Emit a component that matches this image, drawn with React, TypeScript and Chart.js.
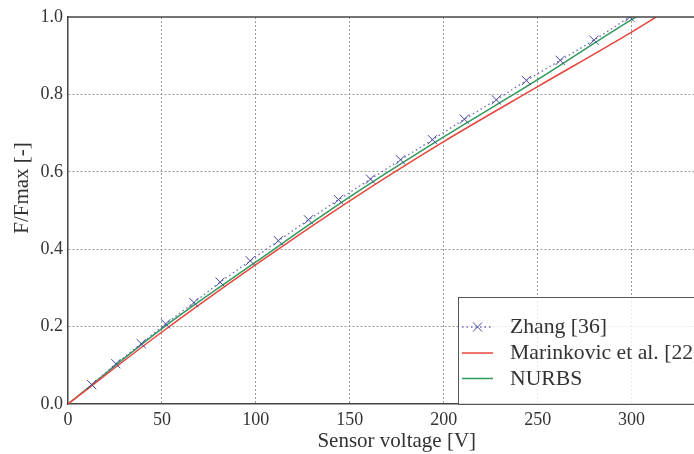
import React, { useEffect, useRef } from "react";
import { Chart, registerables } from "chart.js";
Chart.register(...registerables);

const FONT = "'Liberation Serif', 'DejaVu Serif', serif";

const zhangX = [12.6, 25.5, 39, 52, 67, 81, 97, 112, 128, 144, 161, 177, 194, 211, 228, 244, 262, 280, 299];
const zhangY = [0.05, 0.104, 0.156, 0.207, 0.262, 0.315, 0.37, 0.422, 0.476, 0.528, 0.581, 0.631, 0.683, 0.736, 0.786, 0.836, 0.888, 0.94, 1.0];

const marinX = [0, 50, 100, 150, 200, 250, 300, 313];
const marinY = [0, 0.186, 0.36, 0.525, 0.678, 0.82, 0.961, 1.0];

const nurbsX = [0, 50, 100, 150, 200, 250, 300, 302.5];
const nurbsY = [0, 0.195, 0.367, 0.535, 0.69, 0.838, 0.993, 1.0];

const legendLabels = ["Zhang [36]", "Marinkovic et al. [22]", "NURBS"];
const xTitle = "Sensor voltage [V]";
const yTitle = "F/Fmax [-]";
const xMin = 0, xMax = 350, xStep = 50;
const yMin = 0, yMax = 1, yStep = 0.2;

const zhangColor = "#6a6ab8";
const zhangMarker = "#45459a";
const marinColor = "#e8453c";
const nurbsColor = "#2f9a5c";

const pts = (xs: number[], ys: number[]) => xs.map((x, i) => ({ x, y: ys[i] }));

export default function App() {
  const ref = useRef<HTMLCanvasElement | null>(null);
  useEffect(() => {
    if (!ref.current) return;
    const overlay = {
      id: "overlay",
      afterDraw(chart: any) {
        const { ctx, chartArea } = chart;
        ctx.save();
        ctx.strokeStyle = "#444";
        ctx.lineWidth = 1.5;
        ctx.beginPath();
        ctx.moveTo(chartArea.left, chartArea.top);
        ctx.lineTo(chartArea.right, chartArea.top);
        ctx.stroke();
        ctx.fillStyle = "#333";
        ctx.font = `21px ${FONT}`;
        ctx.translate(22, 188);
        ctx.rotate(-Math.PI / 2);
        ctx.textAlign = "center";
        ctx.textBaseline = "middle";
        ctx.fillText(yTitle, 0, 0);
        ctx.restore();

        ctx.save();
        const bx = 458, by = 297, bw = 280, bh = chartArea.bottom - 297;
        ctx.fillStyle = "rgba(255,255,255,0.8)";
        ctx.fillRect(bx, by, bw, bh);
        ctx.strokeStyle = "#555";
        ctx.lineWidth = 1;
        ctx.strokeRect(bx + 0.5, by + 0.5, bw, bh);
        const lineYs = [327, 353, 378.5];
        const baseYs = [333, 359, 384.5];
        const colors = [zhangColor, marinColor, nurbsColor];
        for (let i = 0; i < 3; i++) {
          ctx.strokeStyle = colors[i];
          ctx.lineWidth = i === 0 ? 1.3 : 1.5;
          ctx.setLineDash(i === 0 ? [1.5, 3] : []);
          ctx.beginPath();
          ctx.moveTo(462, lineYs[i]);
          ctx.lineTo(493, lineYs[i]);
          ctx.stroke();
          ctx.setLineDash([]);
          if (i === 0) {
            ctx.strokeStyle = zhangMarker;
            ctx.lineWidth = 1;
            const cx = 477.5, cy = lineYs[i], r = 4.5;
            ctx.beginPath();
            ctx.moveTo(cx - r, cy - r);
            ctx.lineTo(cx + r, cy + r);
            ctx.moveTo(cx - r, cy + r);
            ctx.lineTo(cx + r, cy - r);
            ctx.stroke();
          }
          ctx.fillStyle = "#333";
          ctx.font = `21.7px ${FONT}`;
          ctx.textAlign = "left";
          ctx.textBaseline = "alphabetic";
          ctx.fillText(legendLabels[i], 510, baseYs[i]);
        }
        ctx.restore();
      },
    };
    const chart = new Chart(ref.current, {
      type: "line",
      data: {
        datasets: [
          {
            label: legendLabels[0],
            data: pts(zhangX, zhangY),
            borderColor: zhangColor,
            borderWidth: 1.3,
            borderDash: [1.5, 3],
            pointStyle: "crossRot",
            pointRadius: 6.5,
            pointBorderColor: zhangMarker,
            pointBorderWidth: 1,
            pointBackgroundColor: "transparent",
            fill: false,
          },
          {
            label: legendLabels[1],
            data: pts(marinX, marinY),
            borderColor: marinColor,
            borderWidth: 1.5,
            pointRadius: 0,
            cubicInterpolationMode: "monotone",
            fill: false,
          },
          {
            label: legendLabels[2],
            data: pts(nurbsX, nurbsY),
            borderColor: nurbsColor,
            borderWidth: 1.5,
            pointRadius: 0,
            cubicInterpolationMode: "monotone",
            fill: false,
          },
        ],
      },
      options: {
        animation: false,
        responsive: false,
        devicePixelRatio: 1,
        layout: { padding: { top: 17, right: 0, left: 0, bottom: 0 } },
        plugins: { legend: { display: false }, tooltip: { enabled: false } },
        scales: {
          x: {
            type: "linear",
            min: xMin,
            max: xMax,
            ticks: {
              stepSize: xStep,
              font: { family: FONT, size: 18 },
              color: "#333",
              padding: 5,
              maxRotation: 0,
              callback: (v: any) => (v === xMax ? "" : String(v)),
            },
            grid: {
              color: (c: any) => (c.tick && (c.tick.value === xMin || c.tick.value === xMax) ? "transparent" : "#9a9a9a"),
              drawTicks: false,
              lineWidth: 1,
            },
            border: { display: true, color: "#444", width: 1.5, dash: [2, 2] },
            title: {
              display: true,
              text: xTitle,
              font: { family: FONT, size: 21 },
              color: "#333",
              padding: { top: 0, bottom: 0 },
            },
            afterFit: (s: any) => {
              s.height = 50;
              s.paddingLeft = 0;
              s.paddingRight = 0;
            },
          },
          y: {
            type: "linear",
            min: yMin,
            max: yMax,
            ticks: {
              stepSize: yStep,
              font: { family: FONT, size: 18 },
              color: "#333",
              padding: 5,
              callback: (v: any) => Number(v).toFixed(1),
            },
            grid: {
              color: (c: any) => (c.tick && (Math.abs(c.tick.value - yMin) < 1e-6 || Math.abs(c.tick.value - yMax) < 1e-6) ? "transparent" : "#9a9a9a"),
              drawTicks: false,
              lineWidth: 1,
            },
            border: { display: true, color: "#444", width: 1.5, dash: [2, 2] },
            afterFit: (s: any) => {
              s.width = 68;
              s.paddingTop = 0;
              s.paddingBottom = 0;
            },
          },
        },
      },
      plugins: [overlay],
    } as any);
    return () => chart.destroy();
  }, []);
  return (
    <div style={{ position: "absolute", left: 0, top: 0, width: 694, height: 454, overflow: "hidden", background: "#fff" }}>
      <canvas ref={ref} width={733} height={454} style={{ display: "block", width: 733, height: 454 }} />
    </div>
  );
}
